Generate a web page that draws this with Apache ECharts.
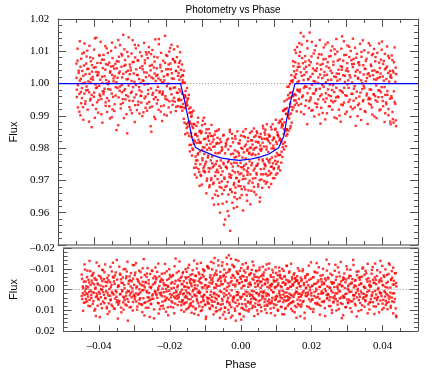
<!DOCTYPE html>
<html>
<head>
<meta charset="utf-8">
<script src="https://cdn.jsdelivr.net/npm/echarts@6/dist/echarts.min.js"></script>
<style>html,body{margin:0;padding:0;background:#fff}#chart{width:436px;height:386px}</style>
</head>
<body>
<div id="chart"></div>
<script>
// folded phase of each observation (shared by both transits)
const phase = [
-0.0449,-0.0448,-0.0446,-0.0445,-0.0443,-0.0441,-0.0440,-0.0438,-0.0437,-0.0436,
-0.0434,-0.0433,-0.0431,-0.0430,-0.0428,-0.0427,-0.0425,-0.0424,-0.0422,-0.0421,
-0.0419,-0.0418,-0.0416,-0.0414,-0.0413,-0.0411,-0.0410,-0.0409,-0.0407,-0.0406,
-0.0404,-0.0403,-0.0401,-0.0400,-0.0398,-0.0396,-0.0395,-0.0394,-0.0392,-0.0391,
-0.0389,-0.0388,-0.0386,-0.0385,-0.0383,-0.0382,-0.0380,-0.0378,-0.0377,-0.0376,
-0.0374,-0.0373,-0.0371,-0.0369,-0.0368,-0.0367,-0.0365,-0.0364,-0.0362,-0.0361,
-0.0359,-0.0358,-0.0356,-0.0355,-0.0353,-0.0351,-0.0350,-0.0349,-0.0347,-0.0346,
-0.0344,-0.0343,-0.0341,-0.0340,-0.0338,-0.0337,-0.0335,-0.0333,-0.0332,-0.0331,
-0.0329,-0.0328,-0.0326,-0.0324,-0.0323,-0.0322,-0.0320,-0.0319,-0.0317,-0.0316,
-0.0314,-0.0313,-0.0311,-0.0310,-0.0308,-0.0306,-0.0305,-0.0304,-0.0302,-0.0301,
-0.0299,-0.0298,-0.0296,-0.0295,-0.0293,-0.0292,-0.0290,-0.0288,-0.0287,-0.0286,
-0.0284,-0.0283,-0.0281,-0.0279,-0.0278,-0.0277,-0.0275,-0.0274,-0.0272,-0.0271,
-0.0269,-0.0268,-0.0266,-0.0265,-0.0263,-0.0261,-0.0260,-0.0259,-0.0257,-0.0256,
-0.0254,-0.0253,-0.0251,-0.0250,-0.0248,-0.0247,-0.0245,-0.0243,-0.0242,-0.0241,
-0.0239,-0.0238,-0.0236,-0.0234,-0.0233,-0.0232,-0.0230,-0.0229,-0.0227,-0.0226,
-0.0224,-0.0223,-0.0221,-0.0220,-0.0218,-0.0216,-0.0215,-0.0214,-0.0212,-0.0211,
-0.0209,-0.0208,-0.0206,-0.0205,-0.0203,-0.0202,-0.0200,-0.0198,-0.0197,-0.0196,
-0.0194,-0.0193,-0.0191,-0.0189,-0.0188,-0.0187,-0.0185,-0.0184,-0.0182,-0.0181,
-0.0179,-0.0178,-0.0176,-0.0175,-0.0173,-0.0172,-0.0170,-0.0168,-0.0167,-0.0166,
-0.0165,-0.0164,-0.0163,-0.0161,-0.0160,-0.0159,-0.0158,-0.0156,-0.0155,-0.0154,
-0.0153,-0.0152,-0.0151,-0.0149,-0.0148,-0.0147,-0.0146,-0.0144,-0.0143,-0.0142,
-0.0141,-0.0140,-0.0139,-0.0137,-0.0136,-0.0135,-0.0134,-0.0132,-0.0131,-0.0130,
-0.0129,-0.0128,-0.0127,-0.0125,-0.0124,-0.0123,-0.0122,-0.0120,-0.0119,-0.0118,
-0.0117,-0.0116,-0.0115,-0.0113,-0.0112,-0.0111,-0.0110,-0.0108,-0.0107,-0.0106,
-0.0105,-0.0104,-0.0103,-0.0101,-0.0100,-0.0099,-0.0098,-0.0096,-0.0095,-0.0094,
-0.0093,-0.0092,-0.0091,-0.0089,-0.0088,-0.0087,-0.0086,-0.0084,-0.0083,-0.0082,
-0.0081,-0.0080,-0.0079,-0.0077,-0.0076,-0.0075,-0.0074,-0.0072,-0.0071,-0.0070,
-0.0069,-0.0068,-0.0067,-0.0065,-0.0064,-0.0063,-0.0062,-0.0060,-0.0059,-0.0058,
-0.0057,-0.0056,-0.0055,-0.0053,-0.0052,-0.0051,-0.0050,-0.0048,-0.0047,-0.0046,
-0.0045,-0.0044,-0.0043,-0.0041,-0.0040,-0.0039,-0.0038,-0.0036,-0.0035,-0.0034,
-0.0033,-0.0032,-0.0031,-0.0029,-0.0028,-0.0027,-0.0026,-0.0024,-0.0023,-0.0022,
-0.0021,-0.0020,-0.0019,-0.0017,-0.0016,-0.0015,-0.0014,-0.0012,-0.0011,-0.0010,
-0.0009,-0.0008,-0.0007,-0.0005,-0.0004,-0.0003,-0.0002,0.0000,0.0001,0.0002,
0.0003,0.0004,0.0005,0.0007,0.0008,0.0009,0.0010,0.0012,0.0013,0.0014,
0.0015,0.0016,0.0017,0.0019,0.0020,0.0021,0.0022,0.0024,0.0025,0.0026,
0.0027,0.0028,0.0029,0.0031,0.0032,0.0033,0.0034,0.0036,0.0037,0.0038,
0.0039,0.0040,0.0041,0.0043,0.0044,0.0045,0.0046,0.0048,0.0049,0.0050,
0.0051,0.0052,0.0053,0.0055,0.0056,0.0057,0.0058,0.0060,0.0061,0.0062,
0.0063,0.0064,0.0065,0.0067,0.0068,0.0069,0.0070,0.0072,0.0073,0.0074,
0.0075,0.0076,0.0077,0.0079,0.0080,0.0081,0.0082,0.0084,0.0085,0.0086,
0.0087,0.0088,0.0089,0.0091,0.0092,0.0093,0.0094,0.0096,0.0097,0.0098,
0.0099,0.0100,0.0101,0.0103,0.0104,0.0105,0.0106,0.0108,0.0109,0.0110,
0.0111,0.0112,0.0113,0.0115,0.0116,0.0117,0.0118,0.0120,0.0121,0.0122,
0.0123,0.0124,0.0125,0.0127,0.0128,0.0129,0.0130,0.0132,0.0133,0.0134,
0.0135,0.0136,0.0137,0.0139,0.0140,0.0141,0.0142,0.0144,0.0145,0.0146,
0.0147,0.0148,0.0149,0.0151,0.0152,0.0153,0.0154,0.0156,0.0157,0.0158,
0.0159,0.0160,0.0161,0.0163,0.0164,0.0165,0.0166,0.0168,0.0169,0.0170,
0.0171,0.0172,0.0174,0.0175,0.0177,0.0178,0.0180,0.0182,0.0183,0.0184,
0.0186,0.0187,0.0189,0.0190,0.0192,0.0193,0.0195,0.0197,0.0198,0.0199,
0.0201,0.0202,0.0204,0.0205,0.0207,0.0208,0.0210,0.0212,0.0213,0.0214,
0.0216,0.0217,0.0219,0.0220,0.0222,0.0223,0.0225,0.0227,0.0228,0.0229,
0.0231,0.0232,0.0234,0.0235,0.0237,0.0238,0.0240,0.0242,0.0243,0.0244,
0.0246,0.0247,0.0249,0.0250,0.0252,0.0253,0.0255,0.0257,0.0258,0.0259,
0.0261,0.0262,0.0264,0.0265,0.0267,0.0268,0.0270,0.0272,0.0273,0.0274,
0.0276,0.0277,0.0279,0.0280,0.0282,0.0283,0.0285,0.0287,0.0288,0.0289,
0.0291,0.0292,0.0294,0.0295,0.0297,0.0298,0.0300,0.0302,0.0303,0.0304,
0.0306,0.0307,0.0309,0.0310,0.0312,0.0313,0.0315,0.0317,0.0318,0.0319,
0.0321,0.0322,0.0324,0.0325,0.0327,0.0328,0.0330,0.0332,0.0333,0.0334,
0.0336,0.0337,0.0339,0.0340,0.0342,0.0343,0.0345,0.0347,0.0348,0.0349,
0.0351,0.0352,0.0354,0.0355,0.0357,0.0358,0.0360,0.0362,0.0363,0.0364,
0.0366,0.0367,0.0369,0.0370,0.0372,0.0373,0.0375,0.0377,0.0378,0.0379,
0.0381,0.0382,0.0384,0.0385,0.0387,0.0388,0.0390,0.0392,0.0393,0.0394,
0.0396,0.0397,0.0399,0.0400,0.0402,0.0403,0.0405,0.0407,0.0408,0.0409,
0.0411,0.0412,0.0414,0.0415,0.0417,0.0418,0.0420,0.0422,0.0423,0.0424,
0.0426,0.0427,0.0429,0.0430,0.0432,0.0433,0.0435,0.0437,0.0438,0.0439
];

// relative flux, first transit
const flux = [
1.0018,0.9958,1.0071,0.9995,1.0033,0.9913,1.0009,1.0052,0.9974,0.9939,
0.9986,1.0039,0.9927,1.0024,1.0096,0.9969,1.0003,0.9945,1.0062,0.9991,
1.0045,0.9980,1.0007,0.9882,1.0030,1.0081,0.9953,1.0015,0.9965,1.0057,
0.9934,1.0012,1.0049,0.9972,1.0140,0.9997,0.9921,1.0036,0.9988,1.0025,
1.0028,0.9949,0.9993,1.0088,0.9961,1.0064,0.9905,1.0021,1.0002,0.9976,
0.9967,1.0074,0.9984,1.0043,0.9942,1.0011,1.0109,0.9955,1.0058,0.9998,
1.0006,0.9930,1.0034,0.9981,1.0053,0.9896,1.0027,1.0079,0.9959,1.0016,
0.9915,1.0023,1.0061,0.9963,1.0004,1.0047,0.9987,0.9871,1.0068,1.0032,
1.0037,0.9991,0.9936,1.0092,0.9973,1.0019,0.9952,1.0151,0.9978,1.0055,
0.9983,1.0058,0.9964,1.0013,0.9846,1.0040,1.0084,0.9994,0.9947,1.0029,
1.0050,0.9971,1.0008,0.9908,1.0066,0.9989,1.0031,0.9957,1.0120,0.9933,
0.9996,1.0044,0.9918,1.0026,1.0071,0.9944,1.0014,0.9979,1.0097,0.9962,
0.9941,0.9975,1.0054,1.0010,0.9911,1.0035,0.9997,1.0072,0.9960,1.0020,
1.0090,0.9938,0.9999,0.9968,1.0097,1.0025,0.9926,1.0041,0.9985,0.9851,
1.0058,0.9965,1.0016,0.9952,1.0083,1.0031,0.9890,1.0008,0.9979,1.0047,
1.0027,0.9990,0.9919,1.0138,0.9972,1.0050,1.0011,0.9930,1.0038,0.9966,
0.9975,1.0003,1.0022,0.9904,1.0064,0.9961,1.0088,0.9992,0.9950,1.0029,
1.0000,1.0059,0.9945,1.0110,0.9983,1.0044,0.9967,1.0016,0.9934,1.0075,
1.0015,0.9956,1.0069,0.9988,1.0039,0.9928,1.0082,0.9971,1.0024,0.9949,
1.0033,0.9953,1.0012,1.0070,0.9975,1.0043,0.9928,1.0001,0.9968,1.0026,
0.9937,1.0003,0.9891,0.9956,1.0002,0.9924,0.9960,0.9875,0.9934,0.9986,
0.9932,0.9867,0.9954,0.9881,0.9922,0.9810,0.9882,0.9911,0.9810,0.9875,
0.9835,0.9911,0.9799,0.9862,0.9826,0.9875,0.9739,0.9822,0.9843,0.9774,
0.9844,0.9740,0.9816,0.9762,0.9880,0.9784,0.9826,0.9726,0.9851,0.9790,
0.9750,0.9816,0.9714,0.9851,0.9794,0.9769,0.9885,0.9738,0.9828,0.9782,
0.9802,0.9725,0.9829,0.9758,0.9858,0.9699,0.9795,0.9771,0.9837,0.9738,
0.9727,0.9801,0.9685,0.9813,0.9762,0.9838,0.9707,0.9774,0.9819,0.9741,
0.9804,0.9693,0.9746,0.9842,0.9656,0.9785,0.9726,0.9813,0.9760,0.9854,
0.9704,0.9784,0.9626,0.9815,0.9745,0.9680,0.9827,0.9762,0.9717,0.9792,
0.9803,0.9658,0.9728,0.9839,0.9750,0.9563,0.9705,0.9784,0.9680,0.9816,
0.9742,0.9634,0.9824,0.9695,0.9757,0.9796,0.9590,0.9720,0.9850,0.9671,
0.9806,0.9708,0.9752,0.9664,0.9830,0.9730,0.9783,0.9614,0.9692,0.9771,
0.9725,0.9837,0.9678,0.9773,0.9708,0.9642,0.9790,0.9745,0.9815,0.9696,
0.9777,0.9719,0.9824,0.9682,0.9741,0.9801,0.9655,0.9771,0.9704,0.9851,
0.9714,0.9787,0.9746,0.9834,0.9672,0.9768,0.9811,0.9730,0.9637,0.9796,
0.9821,0.9738,0.9691,0.9783,0.9759,0.9847,0.9719,0.9802,0.9668,0.9779,
0.9754,0.9811,0.9706,0.9795,0.9680,0.9835,0.9737,0.9779,0.9820,0.9656,
0.9802,0.9718,0.9847,0.9752,0.9688,0.9817,0.9765,0.9634,0.9796,0.9834,
0.9735,0.9792,0.9703,0.9829,0.9765,0.9869,0.9719,0.9805,0.9752,0.9849,
0.9842,0.9744,0.9690,0.9805,0.9767,0.9830,0.9715,0.9788,0.9821,0.9679,
0.9755,0.9838,0.9765,0.9866,0.9723,0.9799,0.9743,0.9825,0.9707,0.9808,
0.9833,0.9738,0.9797,0.9761,0.9860,0.9718,0.9820,0.9785,0.9849,0.9758,
0.9778,0.9836,0.9743,0.9824,0.9885,0.9779,0.9827,0.9755,0.9864,0.9890,
0.9875,0.9803,0.9915,0.9844,0.9796,0.9880,0.9921,0.9852,0.9906,0.9838,
0.9859,0.9924,0.9843,0.9964,0.9913,0.9991,0.9904,0.9971,0.9861,0.9957,
1.0008,0.9928,0.9973,0.9918,1.0011,0.9964,1.0054,0.9948,1.0022,0.9934,
1.0018,0.9964,1.0095,0.9940,1.0041,1.0004,0.9978,1.0062,0.9953,1.0125,
1.0052,0.9981,1.0157,0.9937,1.0024,1.0079,0.9963,1.0011,0.9905,1.0046,
0.9992,1.0068,0.9948,1.0035,1.0132,0.9970,1.0013,0.9924,1.0057,0.9985,
1.0021,0.9957,1.0084,0.9996,0.9918,1.0047,1.0008,0.9969,1.0103,0.9939,
0.9978,1.0039,0.9927,1.0062,1.0002,0.9951,1.0091,0.9984,1.0028,0.9876,
1.0044,0.9966,1.0017,0.9909,1.0075,0.9990,1.0036,0.9943,1.0121,1.0004,
0.9954,1.0027,1.0066,0.9982,0.9930,1.0049,0.9997,1.0085,0.9961,1.0012,
1.0033,0.9919,0.9995,1.0058,0.9974,1.0106,0.9946,1.0020,0.9987,0.9892,
1.0009,1.0071,0.9958,1.0030,0.9901,0.9979,1.0054,0.9935,1.0043,1.0146,
0.9972,1.0026,0.9941,1.0088,1.0005,0.9964,1.0040,0.9913,1.0063,0.9998,
1.0038,0.9987,1.0114,0.9950,1.0019,0.9928,1.0072,1.0003,0.9968,1.0051,
0.9947,1.0061,0.9992,1.0024,0.9869,1.0080,0.9975,1.0042,0.9933,1.0015,
1.0066,0.9960,1.0035,0.9921,1.0010,1.0098,0.9983,0.9945,1.0057,0.9993,
0.9986,1.0046,0.9912,1.0007,1.0077,0.9969,1.0029,0.9951,1.0125,0.9938,
1.0023,0.9952,1.0059,0.9981,0.9926,1.0040,1.0092,0.9966,1.0013,0.9898,
0.9961,1.0082,0.9994,1.0036,0.9944,1.0017,0.9979,1.0065,0.9917,1.0048,
1.0031,0.9973,1.0105,0.9958,1.0022,0.9930,1.0070,0.9989,1.0044,0.9908,
0.9942,1.0014,1.0053,0.9965,1.0086,0.9921,1.0006,1.0039,0.9882,1.0027,
1.0018,0.9955,1.0073,0.9890,1.0034,0.9976,1.0112,0.9937,1.0049,0.9868
];

// relative flux, second transit
const flux2 = [
1.0062,0.9981,1.0108,0.9926,1.0040,0.9968,1.0131,0.9902,1.0015,1.0077,
0.9955,1.0093,1.0001,0.9888,1.0056,1.0124,0.9937,1.0029,0.9979,1.0084,
1.0102,0.9919,1.0046,0.9973,1.0117,0.9948,1.0003,1.0069,0.9865,1.0037,
1.0020,1.0078,0.9959,1.0105,0.9894,1.0051,0.9986,1.0142,0.9942,1.0064,
0.9910,1.0035,1.0087,0.9966,1.0012,1.0129,0.9952,1.0074,0.9879,1.0048,
1.0089,0.9975,1.0023,1.0116,0.9931,1.0060,1.0001,0.9912,1.0095,0.9983,
0.9947,1.0065,0.9892,1.0038,1.0101,0.9969,1.0127,0.9920,1.0054,1.0007,
1.0046,0.9936,1.0112,0.9989,0.9856,1.0070,1.0018,1.0135,0.9957,1.0083,
0.9978,1.0119,0.9923,1.0052,0.9996,1.0087,0.9940,1.0030,0.9893,1.0106,
1.0073,0.9951,1.0036,0.9905,1.0098,1.0014,0.9960,1.0143,0.9927,1.0059,
0.9918,1.0041,1.0093,0.9975,1.0134,0.9946,1.0067,1.0005,0.9881,1.0081,
1.0109,0.9966,1.0027,1.0072,0.9934,1.0118,0.9989,0.9907,1.0049,1.0002,
0.9962,1.0085,0.9899,1.0044,1.0008,1.0126,0.9954,1.0063,0.9925,1.0097,
1.0034,0.9916,1.0079,0.9980,1.0113,0.9943,1.0055,0.9868,1.0091,1.0019,
0.9929,1.0104,0.9971,1.0050,0.9897,1.0068,1.0137,0.9958,1.0024,0.9938,
1.0081,0.9949,1.0016,1.0122,0.9976,1.0058,0.9913,1.0095,1.0003,0.9884,
0.9968,1.0071,0.9932,1.0010,1.0148,0.9953,1.0044,0.9901,1.0086,1.0026,
1.0045,0.9926,1.0099,0.9985,1.0062,0.9911,1.0120,1.0032,0.9947,1.0076,
0.9987,1.0106,0.9944,1.0066,0.9915,1.0039,0.9972,1.0115,0.9930,1.0052,
0.9948,1.0064,0.9982,1.0097,0.9927,1.0021,0.9949,1.0059,0.9916,1.0010,
1.0025,0.9926,1.0040,0.9879,0.9964,0.9843,0.9977,0.9940,0.9862,0.9945,
0.9847,0.9952,0.9878,0.9965,0.9838,0.9909,0.9790,0.9926,0.9847,0.9897,
0.9901,0.9777,0.9867,0.9795,0.9916,0.9814,0.9874,0.9718,0.9841,0.9751,
0.9762,0.9869,0.9709,0.9837,0.9780,0.9894,0.9735,0.9817,0.9683,0.9854,
0.9819,0.9717,0.9846,0.9687,0.9871,0.9762,0.9803,0.9729,0.9894,0.9744,
0.9728,0.9875,0.9751,0.9847,0.9660,0.9811,0.9706,0.9833,0.9777,0.9859,
0.9823,0.9679,0.9846,0.9737,0.9795,0.9701,0.9872,0.9753,0.9645,0.9837,
0.9689,0.9827,0.9625,0.9805,0.9714,0.9852,0.9751,0.9668,0.9816,0.9733,
0.9832,0.9652,0.9725,0.9858,0.9693,0.9786,0.9600,0.9739,0.9819,0.9677,
0.9697,0.9796,0.9628,0.9755,0.9841,0.9670,0.9709,0.9579,0.9805,0.9742,
0.9811,0.9683,0.9737,0.9605,0.9829,0.9656,0.9762,0.9711,0.9857,0.9544,
0.9672,0.9781,0.9716,0.9844,0.9631,0.9743,0.9818,0.9686,0.9755,0.9648,
0.9793,0.9661,0.9829,0.9707,0.9754,0.9618,0.9852,0.9726,0.9683,0.9785,
0.9699,0.9814,0.9646,0.9755,0.9839,0.9722,0.9673,0.9798,0.9741,0.9607,
0.9837,0.9734,0.9680,0.9806,0.9705,0.9859,0.9751,0.9655,0.9792,0.9717,
0.9725,0.9832,0.9669,0.9786,0.9699,0.9800,0.9626,0.9824,0.9747,0.9852,
0.9824,0.9693,0.9783,0.9731,0.9861,0.9664,0.9800,0.9707,0.9839,0.9745,
0.9723,0.9852,0.9746,0.9819,0.9681,0.9782,0.9835,0.9701,0.9647,0.9808,
0.9844,0.9719,0.9798,0.9677,0.9817,0.9760,0.9861,0.9736,0.9698,0.9829,
0.9748,0.9857,0.9720,0.9796,0.9874,0.9695,0.9826,0.9761,0.9842,0.9729,
0.9836,0.9718,0.9815,0.9742,0.9689,0.9858,0.9771,0.9874,0.9753,0.9800,
0.9735,0.9830,0.9707,0.9857,0.9774,0.9888,0.9751,0.9813,0.9722,0.9841,
0.9841,0.9737,0.9878,0.9779,0.9830,0.9731,0.9881,0.9820,0.9789,0.9871,
0.9773,0.9870,0.9813,0.9917,0.9858,0.9945,0.9818,0.9921,0.9806,0.9906,
0.9950,0.9858,0.9990,0.9898,0.9854,0.9954,0.9892,0.9999,0.9938,0.9868,
0.9907,1.0026,0.9879,1.0005,0.9960,1.0069,0.9926,1.0038,0.9967,1.0104,
1.0066,0.9948,1.0029,0.9914,1.0113,0.9981,1.0051,0.9933,1.0008,1.0086,
0.9974,1.0098,1.0035,0.9912,1.0121,0.9958,1.0063,1.0146,0.9987,1.0027,
1.0085,0.9931,1.0052,0.9990,0.9874,1.0109,1.0014,1.0072,0.9945,1.0158,
0.9950,1.0066,0.9916,1.0129,1.0030,0.9969,1.0093,0.9898,1.0041,1.0006,
1.0117,0.9983,1.0047,0.9937,1.0080,1.0019,0.9904,1.0135,0.9961,1.0058,
0.9925,1.0090,0.9996,1.0061,0.9951,1.0112,1.0025,0.9889,1.0076,0.9970,
1.0053,0.9908,1.0127,1.0011,0.9964,1.0084,0.9929,1.0040,1.0102,0.9947,
0.9980,1.0115,0.9942,1.0068,1.0022,0.9895,1.0091,0.9957,1.0138,1.0031,
1.0099,0.9960,1.0043,0.9919,1.0075,1.0013,0.9882,1.0108,0.9976,1.0052,
0.9933,1.0071,1.0131,0.9987,1.0024,0.9906,1.0089,0.9962,1.0047,1.0118,
1.0010,0.9943,1.0082,1.0026,0.9897,1.0101,0.9968,1.0060,0.9921,1.0139,
1.0076,0.9984,0.9926,1.0111,1.0037,0.9955,1.0092,0.9899,1.0018,1.0065,
0.9938,1.0057,1.0123,0.9972,0.9887,1.0083,1.0001,1.0134,0.9949,1.0028,
1.0103,0.9915,1.0045,1.0070,0.9963,1.0017,0.9875,1.0096,1.0032,0.9956,
0.9982,1.0118,0.9934,1.0054,1.0088,0.9904,1.0026,0.9967,1.0107,1.0041,
1.0069,0.9948,1.0012,0.9893,1.0095,1.0035,0.9958,1.0124,0.9979,1.0020,
0.9920,1.0074,0.9989,1.0130,0.9946,1.0061,1.0009,0.9881,1.0092,0.9965,
1.0048,0.9936,1.0115,0.9977,1.0033,0.9902,1.0079,0.9953,1.0021,0.9874,
0.9961,1.0087,0.9912,1.0040,0.9879,1.0066,0.9943,1.0005,0.9886,1.0029
];

// residuals, first transit
const resid = [
0.0031,-0.0052,0.0018,-0.0007,0.0064,-0.0121,0.0009,-0.0038,0.0045,-0.0016,
-0.0060,0.0022,-0.0011,0.0079,-0.0034,0.0050,-0.0089,0.0005,0.0027,-0.0043,
0.0013,-0.0071,0.0056,-0.0025,0.0102,-0.0004,-0.0048,0.0036,-0.0130,0.0020,
-0.0029,0.0044,-0.0066,0.0011,0.0133,-0.0019,0.0070,-0.0053,0.0002,-0.0095,
0.0058,-0.0014,0.0026,-0.0083,0.0041,-0.0037,0.0008,0.0091,-0.0056,0.0017,
-0.0045,0.0067,-0.0002,0.0030,-0.0109,0.0048,-0.0023,0.0012,0.0081,-0.0061,
0.0024,-0.0039,0.0093,-0.0068,0.0006,0.0035,-0.0142,0.0052,-0.0012,0.0073,
-0.0018,0.0055,-0.0076,0.0021,-0.0049,0.0110,0.0003,-0.0031,0.0062,-0.0097,
0.0039,-0.0006,0.0072,-0.0054,0.0015,-0.0087,0.0046,0.0150,-0.0027,0.0008,
-0.0063,0.0028,-0.0015,0.0084,-0.0040,0.0010,-0.0118,0.0060,0.0033,-0.0022,
0.0047,-0.0081,0.0019,-0.0009,0.0097,-0.0050,0.0025,-0.0035,0.0068,-0.0001,
-0.0026,0.0014,-0.0058,0.0074,0.0004,-0.0102,0.0042,-0.0019,0.0125,-0.0070,
0.0061,-0.0033,0.0007,-0.0077,0.0037,0.0088,-0.0045,0.0016,-0.0012,0.0051,
-0.0008,0.0070,-0.0092,0.0029,-0.0024,0.0045,0.0139,-0.0064,0.0012,-0.0036,
0.0020,-0.0057,0.0040,0.0003,-0.0125,0.0066,-0.0017,0.0095,-0.0042,0.0025,
-0.0051,0.0032,-0.0004,0.0078,-0.0030,0.0013,-0.0079,0.0054,-0.0021,0.0107,
0.0009,-0.0046,0.0086,-0.0013,0.0049,-0.0098,0.0023,-0.0060,0.0038,-0.0005,
-0.0035,0.0063,-0.0070,0.0017,0.0115,-0.0028,0.0042,-0.0149,0.0006,0.0031,
0.0044,-0.0019,0.0027,-0.0088,0.0059,-0.0041,0.0011,0.0076,-0.0062,0.0001,
-0.0027,0.0053,-0.0084,0.0019,0.0071,-0.0012,0.0038,-0.0059,0.0005,0.0096,
0.0062,-0.0031,0.0015,-0.0105,0.0047,-0.0008,0.0083,-0.0044,0.0024,-0.0070,
-0.0050,0.0078,-0.0016,0.0035,-0.0093,0.0058,0.0002,-0.0036,0.0117,-0.0021,
0.0029,-0.0067,0.0091,-0.0003,0.0046,-0.0124,0.0014,0.0067,-0.0041,0.0008,
-0.0074,0.0018,-0.0035,0.0104,-0.0057,0.0033,-0.0010,0.0085,-0.0097,0.0048,
0.0056,-0.0088,0.0025,-0.0020,0.0072,-0.0049,0.0131,-0.0006,0.0039,-0.0113,
-0.0015,0.0066,-0.0102,0.0043,-0.0033,0.0094,-0.0069,0.0011,-0.0046,0.0077,
0.0036,-0.0054,0.0081,-0.0127,0.0022,-0.0009,0.0059,-0.0078,0.0106,-0.0025,
-0.0091,0.0047,-0.0018,0.0069,-0.0140,0.0030,-0.0052,0.0099,0.0008,-0.0064,
0.0073,-0.0039,0.0012,-0.0115,0.0054,-0.0026,0.0121,-0.0071,0.0034,-0.0003,
-0.0048,0.0088,-0.0062,0.0026,-0.0153,0.0061,-0.0011,0.0040,-0.0085,0.0112,
0.0019,-0.0098,0.0075,-0.0034,0.0135,-0.0057,0.0004,-0.0119,0.0050,-0.0023,
-0.0066,0.0042,-0.0108,0.0092,-0.0015,0.0064,-0.0143,0.0027,-0.0040,0.0080,
0.0051,-0.0075,0.0015,-0.0029,0.0118,-0.0090,0.0036,-0.0052,0.0145,-0.0007,
-0.0037,0.0070,-0.0121,0.0023,-0.0063,0.0097,-0.0018,0.0049,-0.0082,0.0010,
0.0082,-0.0045,0.0030,-0.0100,0.0058,-0.0013,0.0106,-0.0069,0.0021,-0.0033,
-0.0024,0.0061,-0.0079,0.0007,0.0090,-0.0052,0.0036,-0.0116,0.0043,0.0128,
0.0045,-0.0030,0.0067,-0.0091,0.0016,-0.0060,0.0101,-0.0017,0.0074,-0.0043,
-0.0058,0.0022,-0.0106,0.0052,-0.0008,0.0085,-0.0039,0.0031,-0.0072,0.0012,
0.0034,-0.0067,0.0009,0.0078,-0.0029,0.0046,-0.0095,0.0019,0.0113,-0.0051,
-0.0012,0.0057,-0.0047,0.0028,-0.0125,0.0068,-0.0020,0.0092,-0.0061,0.0003,
0.0065,-0.0026,0.0040,-0.0082,0.0013,-0.0044,0.0071,-0.0009,0.0050,-0.0107,
-0.0040,0.0074,-0.0015,0.0033,-0.0069,0.0103,-0.0030,0.0018,-0.0088,0.0055,
0.0027,-0.0056,0.0084,-0.0011,0.0042,-0.0099,0.0006,0.0061,-0.0034,0.0120,
-0.0063,0.0035,-0.0022,0.0089,-0.0047,0.0015,-0.0113,0.0052,-0.0005,0.0037,
0.0048,-0.0081,0.0020,-0.0038,0.0066,-0.0014,0.0093,-0.0059,0.0029,-0.0025,
-0.0019,0.0058,-0.0071,0.0024,-0.0036,0.0079,-0.0052,0.0010,0.0136,-0.0043,
0.0012,-0.0044,0.0069,-0.0028,0.0037,-0.0090,0.0021,0.0053,-0.0016,0.0083,
-0.0041,0.0025,-0.0088,0.0060,0.0007,-0.0030,0.0112,-0.0055,0.0018,-0.0009,
0.0033,-0.0072,0.0014,-0.0021,0.0086,-0.0046,0.0003,0.0057,-0.0131,0.0029,
-0.0016,0.0048,-0.0059,0.0094,-0.0027,0.0012,-0.0083,0.0039,-0.0004,0.0071,
0.0064,-0.0035,0.0022,-0.0107,0.0045,-0.0013,0.0078,-0.0050,0.0009,-0.0024,
-0.0069,0.0017,-0.0032,0.0055,-0.0002,0.0128,-0.0044,0.0026,-0.0091,0.0040,
0.0021,-0.0053,0.0080,-0.0010,0.0037,-0.0076,0.0006,0.0099,-0.0028,0.0014,
-0.0034,0.0058,-0.0012,0.0030,-0.0119,0.0047,-0.0061,0.0019,0.0073,-0.0005,
0.0008,-0.0082,0.0043,-0.0025,0.0066,-0.0039,0.0138,-0.0015,0.0031,-0.0058,
-0.0052,0.0036,-0.0007,0.0085,-0.0048,0.0020,-0.0097,0.0062,-0.0018,0.0004,
0.0049,-0.0026,0.0090,-0.0064,0.0011,-0.0033,0.0057,-0.0143,0.0028,-0.0010,
-0.0020,0.0069,-0.0045,0.0016,-0.0086,0.0038,-0.0003,0.0104,-0.0057,0.0023,
0.0035,-0.0060,0.0010,-0.0029,0.0076,-0.0101,0.0044,-0.0014,0.0022,-0.0071,
-0.0008,0.0051,-0.0078,0.0027,-0.0038,0.0115,-0.0054,0.0006,0.0063,-0.0023,
0.0060,-0.0017,0.0032,-0.0094,0.0013,-0.0047,0.0081,-0.0031,0.0041,-0.0125,
-0.0046,0.0024,-0.0065,0.0042,-0.0001,0.0070,-0.0036,0.0012,-0.0083,0.0053,
0.0018,-0.0040,0.0097,-0.0022,0.0050,-0.0068,0.0008,0.0034,-0.0012,0.0074,
-0.0031,0.0065,-0.0009,0.0028,-0.0075,0.0044,-0.0120,0.0015,0.0088,-0.0049,
0.0039,-0.0057,0.0019,-0.0105,0.0061,-0.0024,0.0046,-0.0079,0.0126,-0.0015
];

// residuals, second transit
const resid2 = [
-0.0072,0.0046,-0.0015,0.0103,-0.0038,0.0027,-0.0096,0.0061,-0.0004,0.0019,
0.0057,-0.0091,0.0034,-0.0047,0.0012,-0.0138,0.0080,-0.0022,0.0041,-0.0066,
-0.0031,0.0069,-0.0080,0.0016,-0.0055,0.0094,-0.0009,0.0128,-0.0046,0.0032,
0.0078,-0.0024,0.0049,-0.0113,0.0021,-0.0062,0.0037,-0.0002,0.0090,-0.0041,
-0.0093,0.0013,-0.0050,0.0066,-0.0121,0.0043,-0.0017,0.0084,-0.0034,0.0118,
0.0029,-0.0068,0.0106,-0.0036,0.0052,-0.0011,0.0073,-0.0087,0.0018,-0.0129,
-0.0057,0.0091,-0.0027,0.0044,-0.0082,0.0013,0.0062,-0.0048,0.0140,-0.0019,
0.0063,-0.0110,0.0024,-0.0071,0.0087,-0.0033,0.0009,-0.0058,0.0035,0.0097,
-0.0022,0.0051,-0.0099,0.0030,-0.0064,0.0077,-0.0134,0.0008,0.0059,-0.0040,
0.0086,-0.0045,0.0017,-0.0079,0.0038,-0.0006,0.0101,-0.0052,0.0025,-0.0117,
-0.0069,0.0034,-0.0127,0.0058,-0.0014,0.0082,-0.0043,0.0020,-0.0091,0.0049,
0.0042,-0.0084,0.0071,-0.0020,0.0109,-0.0037,0.0003,-0.0146,0.0065,-0.0010,
-0.0036,0.0088,-0.0061,0.0014,-0.0103,0.0056,-0.0028,0.0039,0.0132,-0.0075,
0.0070,-0.0012,0.0045,-0.0089,0.0023,-0.0054,0.0096,-0.0030,0.0008,-0.0106,
-0.0049,0.0027,-0.0085,0.0065,-0.0007,0.0116,-0.0063,0.0018,-0.0037,0.0080,
0.0015,-0.0076,0.0059,-0.0044,0.0092,-0.0021,0.0034,-0.0123,0.0048,-0.0003,
-0.0088,0.0040,-0.0018,0.0124,-0.0052,0.0006,-0.0070,0.0083,-0.0029,0.0057,
0.0026,-0.0064,0.0087,-0.0008,0.0035,-0.0112,0.0068,-0.0042,0.0014,-0.0081,
-0.0011,0.0075,-0.0047,0.0038,-0.0135,0.0020,-0.0056,0.0099,-0.0025,0.0062,
0.0052,-0.0078,0.0023,-0.0040,0.0107,-0.0016,0.0064,-0.0098,0.0031,-0.0053,
-0.0085,0.0039,-0.0012,0.0091,-0.0060,0.0018,-0.0119,0.0072,-0.0033,0.0047,
0.0066,-0.0027,0.0112,-0.0074,0.0009,-0.0045,0.0083,-0.0139,0.0024,-0.0006,
-0.0043,0.0095,-0.0065,0.0032,-0.0101,0.0056,-0.0019,0.0123,-0.0082,0.0015,
0.0081,-0.0052,0.0013,-0.0128,0.0061,-0.0030,0.0100,-0.0071,0.0036,-0.0009,
-0.0062,0.0028,-0.0094,0.0075,-0.0021,0.0142,-0.0049,0.0011,-0.0111,0.0058,
0.0044,-0.0105,0.0068,-0.0015,0.0089,-0.0058,0.0027,-0.0133,0.0052,-0.0028,
-0.0097,0.0059,-0.0037,0.0120,-0.0068,0.0016,-0.0152,0.0040,-0.0008,0.0087,
0.0024,-0.0071,0.0104,-0.0043,0.0065,-0.0116,0.0033,-0.0018,0.0137,-0.0085,
-0.0054,0.0092,-0.0025,0.0045,-0.0131,0.0070,-0.0063,0.0019,-0.0096,0.0108,
0.0087,-0.0039,0.0141,-0.0080,0.0006,-0.0122,0.0053,-0.0030,0.0098,-0.0165,
-0.0018,0.0064,-0.0093,0.0029,-0.0148,0.0085,-0.0041,0.0126,-0.0070,0.0038,
0.0059,-0.0112,0.0034,-0.0056,0.0103,-0.0024,0.0150,-0.0087,0.0012,-0.0045,
-0.0079,0.0026,-0.0138,0.0069,-0.0031,0.0117,-0.0060,0.0044,-0.0103,0.0089,
0.0035,-0.0066,0.0090,-0.0017,0.0130,-0.0091,0.0022,-0.0044,0.0071,-0.0127,
-0.0042,0.0101,-0.0058,0.0014,-0.0109,0.0063,-0.0028,0.0095,-0.0075,0.0030,
0.0068,-0.0021,0.0047,-0.0095,0.0026,-0.0134,0.0079,-0.0046,0.0009,-0.0072,
-0.0061,0.0083,-0.0012,0.0050,-0.0088,0.0018,-0.0040,0.0118,-0.0026,0.0057,
0.0029,-0.0093,0.0074,-0.0035,0.0011,-0.0064,0.0105,-0.0019,0.0043,-0.0110,
-0.0050,0.0017,-0.0082,0.0060,-0.0025,0.0096,-0.0045,0.0031,-0.0121,0.0073,
0.0079,-0.0034,0.0022,-0.0101,0.0048,-0.0008,0.0063,-0.0070,0.0114,-0.0016,
-0.0027,0.0054,-0.0095,0.0013,-0.0059,0.0088,-0.0038,0.0125,-0.0011,0.0036,
0.0046,-0.0080,0.0030,-0.0048,0.0097,-0.0021,0.0059,-0.0106,0.0007,-0.0064,
-0.0071,0.0038,-0.0016,0.0084,-0.0052,0.0119,-0.0033,0.0025,-0.0090,0.0050,
0.0014,-0.0062,0.0093,-0.0029,0.0055,-0.0115,0.0032,-0.0005,0.0078,-0.0043,
-0.0035,0.0070,-0.0087,0.0041,-0.0012,0.0026,-0.0124,0.0062,-0.0049,0.0104,
0.0058,-0.0024,0.0036,-0.0078,0.0110,-0.0055,0.0017,-0.0040,0.0085,-0.0008,
-0.0064,0.0049,-0.0102,0.0021,-0.0032,0.0076,-0.0015,0.0129,-0.0057,0.0034,
0.0072,-0.0048,0.0015,-0.0097,0.0055,-0.0021,0.0139,-0.0064,0.0030,-0.0006,
-0.0037,0.0081,-0.0073,0.0024,-0.0115,0.0047,-0.0010,0.0093,-0.0052,0.0016,
0.0049,-0.0019,0.0108,-0.0059,0.0031,-0.0086,0.0066,-0.0028,0.0005,-0.0127,
-0.0081,0.0036,-0.0044,0.0073,-0.0012,0.0121,-0.0067,0.0020,-0.0038,0.0059,
0.0017,-0.0100,0.0061,-0.0026,0.0090,-0.0053,0.0008,-0.0144,0.0044,-0.0015,
-0.0058,0.0026,-0.0122,0.0052,-0.0007,0.0080,-0.0036,0.0113,-0.0069,0.0038,
0.0063,-0.0031,0.0042,-0.0090,0.0018,-0.0047,0.0101,-0.0014,0.0057,-0.0107,
-0.0024,0.0094,-0.0063,0.0009,-0.0133,0.0039,-0.0018,0.0070,-0.0046,0.0124,
0.0040,-0.0077,0.0023,-0.0035,0.0085,-0.0112,0.0048,-0.0004,0.0066,-0.0055,
-0.0066,0.0012,-0.0095,0.0058,-0.0029,0.0107,-0.0050,0.0027,-0.0118,0.0045,
0.0028,-0.0043,0.0077,-0.0016,0.0130,-0.0069,0.0006,-0.0087,0.0051,-0.0022,
-0.0047,0.0065,-0.0028,0.0099,-0.0062,0.0019,-0.0106,0.0037,-0.0011,0.0083,
0.0056,-0.0090,0.0033,-0.0049,0.0011,-0.0124,0.0072,-0.0020,0.0096,-0.0039,
-0.0012,0.0046,-0.0076,0.0025,-0.0109,0.0061,-0.0033,0.0118,-0.0058,0.0007,
0.0082,-0.0026,0.0051,-0.0093,0.0036,-0.0008,0.0110,-0.0045,0.0019,-0.0138,
-0.0053,0.0032,-0.0114,0.0068,-0.0020,0.0089,-0.0061,0.0013,-0.0097,0.0054,
0.0021,-0.0070,0.0095,-0.0037,0.0060,-0.0126,0.0034,-0.0009,0.0079,-0.0046,
-0.0089,0.0057,-0.0024,0.0115,-0.0042,0.0018,-0.0078,0.0091,-0.0031,0.0133
];

// transit model curve (blue)
const modelPhase = [-0.0500,-0.0160,-0.0149,-0.0138,-0.0127,-0.0118,-0.0107,-0.0095,-0.0072,-0.0049,-0.0022,0.0004,0.0039,0.0062,0.0086,0.0113,0.0127,0.0135,0.0146,0.0158,0.0500];
const modelFlux  = [1.0000,1.0000,0.9949,0.9888,0.9826,0.9802,0.9795,0.9790,0.9779,0.9770,0.9765,0.9762,0.9767,0.9773,0.9782,0.9801,0.9837,0.9888,0.9945,1.0000,1.0000];

// dotted reference levels
const refPhase = [-0.05, 0.05];
const refFlux = [1.0, 1.0];
const refResid = [0.0, 0.0];

const zip = (xs, ys) => xs.slice(0, Math.min(xs.length, ys.length)).map((x, i) => [x, ys[i]]);

const frame = '#444';
const tickLine = { color: '#555', width: 1 };
const sepLine = { color: '#a0a0a0', width: 2 };
const labelFont = { fontFamily: 'Liberation Serif', fontSize: 11, color: '#000' };
const nameFont = { fontFamily: 'Liberation Sans', fontSize: 11, color: '#000' };

function num(v) {
    const s = Math.abs(v).toFixed(2);
    return v < -1e-9 ? '\u2013' + s : s;
}

function phaseAxis(grid, pos, extra) {
    return Object.assign({
        type: 'value', gridIndex: grid, position: pos,
        min: -0.05, max: 0.05, interval: 0.01,
        axisLine: { show: true, onZero: false, lineStyle: { color: frame, width: 1 } },
        axisTick: { show: true, inside: true, length: 8, lineStyle: tickLine },
        minorTick: { show: true, splitNumber: 2, length: 4, lineStyle: tickLine },
        axisLabel: { show: false },
        splitLine: { show: false }
    }, extra);
}

function valueAxis(grid, pos, min, max, extra) {
    return Object.assign({
        type: 'value', gridIndex: grid, position: pos,
        min: min, max: max, interval: 0.01,
        axisLine: { show: true, onZero: false, lineStyle: { color: frame, width: 1 } },
        axisTick: { show: true, inside: true, length: 8, lineStyle: tickLine },
        minorTick: { show: true, splitNumber: 5, length: 4, lineStyle: tickLine },
        axisLabel: { show: false },
        splitLine: { show: false }
    }, extra);
}

const dots = { symbol: 'rect', symbolSize: 2.4, itemStyle: { color: '#ff0000' }, z: 2, silent: true };

const chart = echarts.init(document.getElementById('chart'));
chart.setOption({
    animation: false,
    backgroundColor: '#fff',
    title: {
        text: 'Photometry vs Phase',
        left: 228, top: 0, textAlign: 'center',
        textStyle: { fontFamily: 'Liberation Sans', fontSize: 10, fontWeight: 'normal', color: '#000' }
    },
    grid: [
        { left: 51, right: 18, top: 19, height: 226 },
        { left: 51, right: 18, top: 248, height: 83 }
    ],
    xAxis: [
        phaseAxis(0, 'bottom', { axisLine: { show: true, onZero: false, lineStyle: sepLine } }),
        phaseAxis(0, 'top'),
        phaseAxis(1, 'bottom', {
            axisTick: { show: true, inside: true, length: 6, lineStyle: tickLine },
            minorTick: { show: true, splitNumber: 2, length: 3, lineStyle: tickLine },
            axisLabel: {
                show: true, margin: 10, ...labelFont,
                formatter: v => (Math.round(v * 100) % 2 === 0 ? num(v) : '')
            },
            name: 'Phase', nameLocation: 'middle', nameGap: 28, nameTextStyle: nameFont
        }),
        phaseAxis(1, 'top', {
            axisLine: { show: true, onZero: false, lineStyle: sepLine },
            axisTick: { show: false }, minorTick: { show: false }
        })
    ],
    yAxis: [
        valueAxis(0, 'left', 0.95, 1.02, {
            axisLabel: { show: true, margin: 9, ...labelFont, formatter: v => (v < 0.955 ? '' : num(v)) },
            name: 'Flux', nameLocation: 'middle', nameRotate: 90, nameGap: 33, nameTextStyle: nameFont
        }),
        valueAxis(0, 'right', 0.95, 1.02),
        valueAxis(1, 'left', -0.02, 0.02, {
            inverse: true,
            axisLabel: { show: true, margin: 9, ...labelFont, formatter: v => num(v) },
            name: 'Flux', nameLocation: 'middle', nameRotate: 90, nameGap: 33, nameTextStyle: nameFont
        }),
        valueAxis(1, 'right', -0.02, 0.02, { inverse: true })
    ],
    series: [
        {
            type: 'line', xAxisIndex: 0, yAxisIndex: 0, data: zip(refPhase, refFlux),
            symbol: 'none', lineStyle: { color: '#888', width: 1, type: [1, 2] }, z: 1, silent: true
        },
        Object.assign({ type: 'scatter', xAxisIndex: 0, yAxisIndex: 0,
            data: zip(phase, flux).concat(zip(phase, flux2)) }, dots),
        {
            type: 'line', xAxisIndex: 0, yAxisIndex: 0, data: zip(modelPhase, modelFlux),
            symbol: 'none', lineStyle: { color: '#0000ff', width: 1.2 }, z: 3, silent: true
        },
        {
            type: 'line', xAxisIndex: 2, yAxisIndex: 2, data: zip(refPhase, refResid),
            symbol: 'none', lineStyle: { color: '#888', width: 1, type: [1, 2] }, z: 1, silent: true
        },
        Object.assign({ type: 'scatter', xAxisIndex: 2, yAxisIndex: 2,
            data: zip(phase, resid).concat(zip(phase, resid2)) }, dots)
    ]
});
</script>
</body>
</html>
